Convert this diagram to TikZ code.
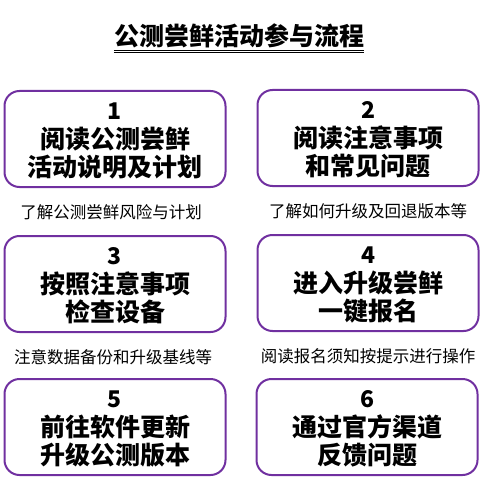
\documentclass[tikz,border=0pt]{standalone}
\usepackage{fontspec}
\setmainfont{Noto Sans CJK SC}[BoldFont={Noto Sans CJK SC Black}]
\usetikzlibrary{positioning}
\definecolor{boxpurple}{HTML}{7030A0}
\newcommand{\stepnum}[1]{{\rule{0pt}{21pt}\fontsize{23}{26}\selectfont #1}}
\begin{document}
\begin{tikzpicture}[x=1pt,y=1pt,
  stepbox/.style={draw=boxpurple, line width=2pt, rounded corners=15pt,
    minimum width=221pt, minimum height=96pt, align=center, inner sep=0pt,
    font=\bfseries\fontsize{25}{28}\selectfont},
  note/.style={inner sep=0pt, font=\fontsize{16.5}{18}\selectfont}]
\useasboundingbox (0,0) rectangle (483,-497);
\node (title) at (239,-36) [inner sep=0pt, font=\bfseries\fontsize{25}{28}\selectfont] {公测尝鲜活动参与流程};
\draw [line width=0.8pt] (title.west |- 0,-50) -- (title.east |- 0,-50);
\draw [line width=0.8pt] (title.west |- 0,-52) -- (title.east |- 0,-52);
\node [stepbox] (s1) at (115,-139) {\stepnum{1}\\[1pt]阅读公测尝鲜\\活动说明及计划};
\node [stepbox] (s2) at (368,-138) {\stepnum{2}\\[1pt]阅读注意事项\\和常见问题};
\node [stepbox] (s3) at (115,-284) {\stepnum{3}\\[1pt]按照注意事项\\检查设备};
\node [stepbox] (s4) at (368,-283) {\stepnum{4}\\[1pt]进入升级尝鲜\\一键报名};
\node [stepbox] (s5) at (115,-427) {\stepnum{5}\\[1pt]前往软件更新\\升级公测版本};
\node [stepbox] (s6) at (367,-427) {\stepnum{6}\\[1pt]通过官方渠道\\反馈问题};
\node [note, below=16pt of s1, xshift=-4pt] (n1) {了解公测尝鲜风险与计划};
\node [note, below=16pt of s2] (n2) {了解如何升级及回退版本等};
\node [note, below=16pt of s3, xshift=-2pt] (n3) {注意数据备份和升级基线等};
\node [note, below=16pt of s4] (n4) {阅读报名须知按提示进行操作};
\end{tikzpicture}
\end{document}
